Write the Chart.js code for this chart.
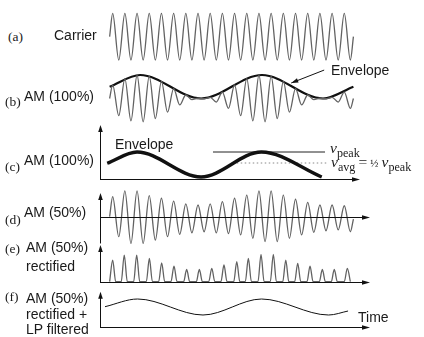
<!DOCTYPE html>
<html>
<head>
<meta charset="utf-8">
<script src="https://cdn.jsdelivr.net/npm/chart.js@4"></script>
<style>
  body { margin: 0; background: #fff; width: 424px; height: 337px; position: relative; overflow: hidden;
         font-family: "Liberation Sans", Arial, sans-serif; color: #1a1a1a; }
  .panel { position: absolute; left: 95px; width: 285px; }
  .lbl { position: absolute; font-size: 14px; line-height: 1; white-space: nowrap; }
  .tag { position: absolute; font-family: "Liberation Serif", "Times New Roman", serif; font-size: 13.5px; line-height: 1; }
  .math { position: absolute; font-family: "Liberation Serif", "Times New Roman", serif; font-size: 15.5px; line-height: 1; white-space: nowrap; }
  .math sub { font-size: 0.78em; vertical-align: -0.35em; line-height: 0; }
</style>
</head>
<body>
<div class="panel" style="top:5px;height:65px"><canvas id="pa"></canvas></div>
<div class="panel" style="top:68px;height:60px"><canvas id="pb"></canvas></div>
<div class="panel" style="top:120px;height:65px"><canvas id="pc"></canvas></div>
<div class="panel" style="top:185px;height:65px"><canvas id="pd"></canvas></div>
<div class="panel" style="top:240px;height:47px"><canvas id="pe"></canvas></div>
<div class="panel" style="top:288px;height:45px"><canvas id="pf"></canvas></div>

<span class="tag" style="left:8px;top:30px">(a)</span>
<span class="lbl" style="left:54px;top:28px">Carrier</span>
<span class="tag" style="left:5px;top:95px">(b)</span>
<span class="lbl" style="left:24px;top:89px">AM (100%)</span>
<span class="lbl" style="left:331px;top:63px">Envelope</span>
<span class="tag" style="left:5px;top:160px">(c)</span>
<span class="lbl" style="left:24px;top:153px">AM (100%)</span>
<span class="lbl" style="left:115px;top:137px">Envelope</span>
<span class="math" style="left:330px;top:140px"><i>v</i><sub>peak</sub></span>
<span class="math" style="left:331px;top:154px"><i>v</i><sub>avg</sub>&thinsp;=&thinsp;<span style="font-size:0.7em">½</span>&thinsp;<i>v</i><sub>peak</sub></span>
<span class="tag" style="left:5px;top:213px">(d)</span>
<span class="lbl" style="left:24px;top:205px">AM (50%)</span>
<span class="tag" style="left:5px;top:242px">(e)</span>
<span class="lbl" style="left:26px;top:240px">AM (50%)</span>
<span class="lbl" style="left:26px;top:259px">rectified</span>
<span class="tag" style="left:5px;top:290px">(f)</span>
<span class="lbl" style="left:26px;top:291px">AM (50%)</span>
<span class="lbl" style="left:26px;top:307px">rectified +</span>
<span class="lbl" style="left:26px;top:322px">LP filtered</span>
<span class="lbl" style="left:358px;top:310px">Time</span>

<script>
// time in carrier cycles; sample times at the zero ends and each peak / trough
const extremaTimes = [0, 0.25, 0.75, 1.25, 1.75, 2.25, 2.75, 3.25, 3.75, 4.25, 4.75, 5.25, 5.75, 6.25, 6.75,
  7.25, 7.75, 8.25, 8.75, 9.25, 9.75, 10.25, 10.75, 11.25, 11.75, 12.25, 12.75, 13.25, 13.75, 14.25, 14.75,
  15.25, 15.75, 16.25, 16.75, 17.25, 17.75, 18.25, 18.75, 19.25, 19.75, 20];

// (a) carrier
const carrier = [0, 1, -1, 1, -1, 1, -1, 1, -1, 1, -1, 1, -1, 1, -1, 1, -1, 1, -1, 1, -1,
  1, -1, 1, -1, 1, -1, 1, -1, 1, -1, 1, -1, 1, -1, 1, -1, 1, -1, 1, -1, 0];

// (b) AM 100%
const am100 = [0, 0.58, -0.73, 0.85, -0.95, 0.99, -0.99, 0.95, -0.85, 0.73, -0.58, 0.42, -0.27, 0.15, -0.05,
  0.01, -0.01, 0.05, -0.15, 0.27, -0.42, 0.58, -0.73, 0.85, -0.95, 0.99, -0.99, 0.95, -0.85, 0.73, -0.58,
  0.42, -0.27, 0.15, -0.05, 0.01, -0.01, 0.05, -0.15, 0.27, -0.42, 0];
const envTimesB = [0, 2.5, 7.5, 12.5, 17.5, 20];
const envB = [0.5, 1, 0, 1, 0, 0.5];

// (c) envelope alone
const envTimesC = [-0.2, 2.25, 7.5, 12.45, 17.4];
const envC = [0.55, 1, 0, 1, 0];
const vPeak = 1;
const vAvg = 0.56;

// (d) AM 50%
const am50 = [0, 0.77, -0.77, 0.99, -1.03, 0.99, -1.03, 0.81, -0.90, 0.71, -0.77, 0.60, -0.68, 0.49, -0.62,
  0.45, -0.58, 0.49, -0.62, 0.58, -0.65, 0.71, -0.70, 0.83, -0.83, 0.99, -0.96, 0.99, -0.96, 0.83, -0.83,
  0.67, -0.70, 0.55, -0.60, 0.45, -0.54, 0.45, -0.51, 0.42, -0.58, -0.09];

// (e) rectified: hump peaks
const humpTimes = [0.25, 1.2, 2.22, 3.26, 4.27, 5.28, 6.32, 7.36, 8.38, 9.38, 10.43, 11.38, 12.42, 13.43,
  14.45, 15.43, 16.44, 17.45, 18.43, 19.5];
const humpPeaks = [0.79, 0.97, 0.97, 0.85, 0.69, 0.57, 0.45, 0.45, 0.49, 0.61, 0.73, 0.85, 1.0, 1.0,
  0.79, 0.67, 0.57, 0.45, 0.45, 0.49];

// (f) low-pass filtered
const lpTimes = [-0.38, 2.3, 7.66, 12.46, 17.96, 19.56];
const lpVals = [20.6, 28.3, 12.3, 28.3, 12.3, 16.3];

const X_MIN = -1.2, X_MAX = 22.18;

const pts = (xs, ys) => xs.map((x, i) => ({ x, y: ys[i] }));

const humpPts = [];
humpTimes.forEach((t, i) => {
  humpPts.push({ x: t - 0.25, y: 0 }, { x: t, y: humpPeaks[i] }, { x: t + 0.25, y: 0 });
});

const axisArrows = {
  id: 'axisArrows',
  afterDatasetsDraw(chart, args, o) {
    const { ctx, scales: { x, y } } = chart;
    if (o.axes) {
      const a = o.axes;
      const px = Math.round(x.getPixelForValue(a.x0)) + 0.5;
      const py = Math.round(y.getPixelForValue(a.y0)) + 0.5;
      const top = y.getPixelForValue(a.yTop);
      const bottom = y.getPixelForValue(a.yBottom);
      const right = x.getPixelForValue(a.xEnd);
      ctx.save();
      ctx.strokeStyle = '#111';
      ctx.fillStyle = '#111';
      ctx.lineWidth = 1;
      ctx.beginPath();
      ctx.moveTo(px, bottom + 0.5);
      ctx.lineTo(px, top + 4);
      ctx.moveTo(px - 0.5, py);
      ctx.lineTo(right - 4, py);
      ctx.stroke();
      ctx.beginPath();
      ctx.moveTo(px, top);
      ctx.lineTo(px - 2.3, top + 7);
      ctx.lineTo(px + 2.3, top + 7);
      ctx.fill();
      ctx.beginPath();
      ctx.moveTo(right, py);
      ctx.lineTo(right - 8, py - 2.3);
      ctx.lineTo(right - 8, py + 2.3);
      ctx.fill();
      ctx.restore();
    }
    if (o.pointer) {
      const p = o.pointer;
      const x1 = x.getPixelForValue(p.from[0]), y1 = y.getPixelForValue(p.from[1]);
      const x2 = x.getPixelForValue(p.to[0]), y2 = y.getPixelForValue(p.to[1]);
      const ang = Math.atan2(y2 - y1, x2 - x1);
      ctx.save();
      ctx.strokeStyle = '#111';
      ctx.fillStyle = '#111';
      ctx.lineWidth = 1;
      ctx.beginPath();
      ctx.moveTo(x1, y1);
      ctx.lineTo(x2, y2);
      ctx.stroke();
      ctx.translate(x2, y2);
      ctx.rotate(ang);
      ctx.beginPath();
      ctx.moveTo(0, 0);
      ctx.lineTo(-7, -2.3);
      ctx.lineTo(-7, 2.3);
      ctx.fill();
      ctx.restore();
    }
  }
};

function line(data, color, width, extra) {
  return Object.assign({
    data, borderColor: color, borderWidth: width, pointRadius: 0, fill: false,
    cubicInterpolationMode: 'monotone'
  }, extra || {});
}

function makePanel(id, yMin, yMax, datasets, extras) {
  return new Chart(document.getElementById(id), {
    type: 'line',
    data: { datasets },
    options: {
      responsive: true,
      maintainAspectRatio: false,
      animation: false,
      layout: { padding: 0 },
      plugins: { legend: { display: false }, tooltip: { enabled: false }, axisArrows: extras || {} },
      scales: {
        x: { type: 'linear', display: false, min: X_MIN, max: X_MAX },
        y: { display: false, min: yMin, max: yMax }
      }
    },
    plugins: [axisArrows]
  });
}

const GRAY = '#626262';

makePanel('pa', -1.43, 1.36, [line(pts(extremaTimes, carrier), GRAY, 1.3)]);

makePanel('pb', -1.255, 1.298, [
  line(pts(extremaTimes, am100), GRAY, 1.3),
  line(pts(envTimesB, envB), '#111', 2.2)
], { pointer: { from: [17.6, 1.21], to: [14.9, 0.66] } });

makePanel('pc', -0.32, 2.28, [
  line(pts(envTimesC, envC), '#111', 3.4),
  line([{ x: 8.48, y: vPeak }, { x: 17.67, y: vPeak }], '#222', 1, { cubicInterpolationMode: 'default', tension: 0 }),
  line([{ x: 10.1, y: vAvg }, { x: 17.92, y: vAvg }], '#888', 1, { tension: 0, borderDash: [1.5, 2.5] })
], { axes: { x0: -0.79, y0: -0.08, yTop: 2.08, yBottom: -0.08, xEnd: 20.54 } });

makePanel('pd', -1.281, 1.219, [line(pts(extremaTimes, am50), GRAY, 1.3)],
  { axes: { x0: -0.79, y0: 0, yTop: 0.91, yBottom: -1.01, xEnd: 21.36 } });

makePanel('pe', -0.193, 1.522, [line(humpPts, GRAY, 1.3)],
  { axes: { x0: -0.79, y0: 0, yTop: 1.34, yBottom: 0, xEnd: 21.36 } });

makePanel('pf', -5.7, 39.3, [line(pts(lpTimes, lpVals), '#111', 1)],
  { axes: { x0: -0.79, y0: 0, yTop: 35.6, yBottom: 0, xEnd: 21.36 } });
</script>
</body>
</html>
